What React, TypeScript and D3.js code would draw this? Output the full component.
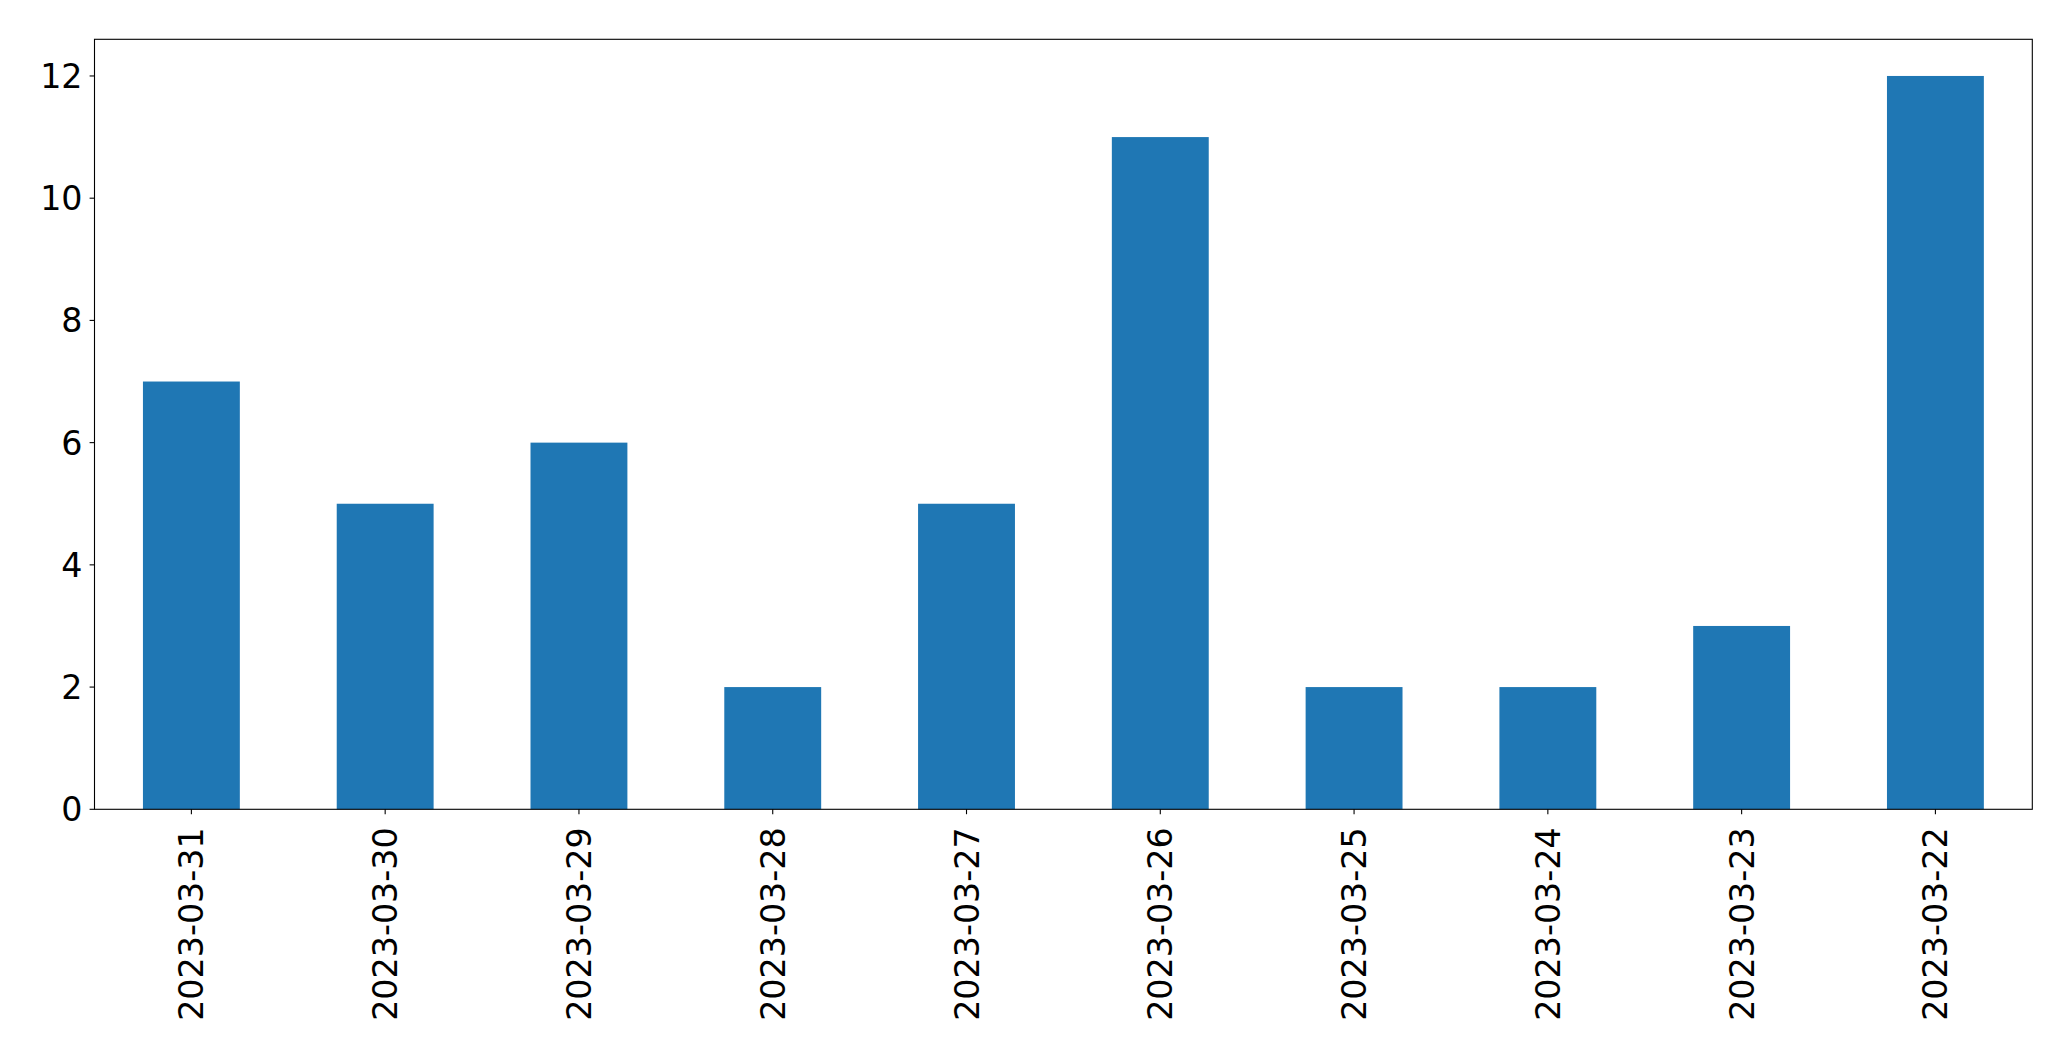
import React from "react";
import * as d3 from "d3";

const categories = ["2023-03-31", "2023-03-30", "2023-03-29", "2023-03-28", "2023-03-27", "2023-03-26", "2023-03-25", "2023-03-24", "2023-03-23", "2023-03-22"];
const values = [7, 5, 6, 2, 5, 11, 2, 2, 3, 12];
const yTicks = [0, 2, 4, 6, 8, 10, 12];

const W = 2071;
const H = 1061;
const left = 94.5;
const right = 2032.3;
const top = 39.3;
const bottom = 809.3;
const FONT = "'DejaVu Sans', sans-serif";
const FS = 33.3;

export default function App() {
  const x = d3.scaleLinear().domain([-0.5, categories.length - 0.5]).range([left, right]);
  const y = d3.scaleLinear().domain([0, 12.6]).range([bottom, top]);
  const bw = x(0.25) - x(-0.25);
  return (
    <div style={{ position: "absolute", left: 0, top: 0 }}>
      <svg width={W} height={H} style={{ display: "block", background: "#fff" }}>
        {values.map((v, i) => (
          <rect key={i} x={x(i) - bw / 2} y={y(v)} width={bw} height={y(0) - y(v)} fill="#1f77b4" />
        ))}
        <rect x={left} y={top} width={right - left} height={bottom - top} fill="none" stroke="#000" strokeWidth={1.1} />
        {yTicks.map((t) => (
          <g key={t}>
            <line x1={left - 4.9} x2={left} y1={y(t)} y2={y(t)} stroke="#000" strokeWidth={1.1} />
            <text x={left - 12} y={y(t)} dy="0.36em" textAnchor="end" fontFamily={FONT} fontSize={FS} fill="#000">{t}</text>
          </g>
        ))}
        {categories.map((c, i) => (
          <g key={c}>
            <line x1={x(i)} x2={x(i)} y1={bottom} y2={bottom + 4.9} stroke="#000" strokeWidth={1.1} />
            <text transform={`translate(${x(i)},${bottom + 18}) rotate(-90)`} dy="0.36em" textAnchor="end" fontFamily={FONT} fontSize={FS} fill="#000">{c}</text>
          </g>
        ))}
      </svg>
    </div>
  );
}
